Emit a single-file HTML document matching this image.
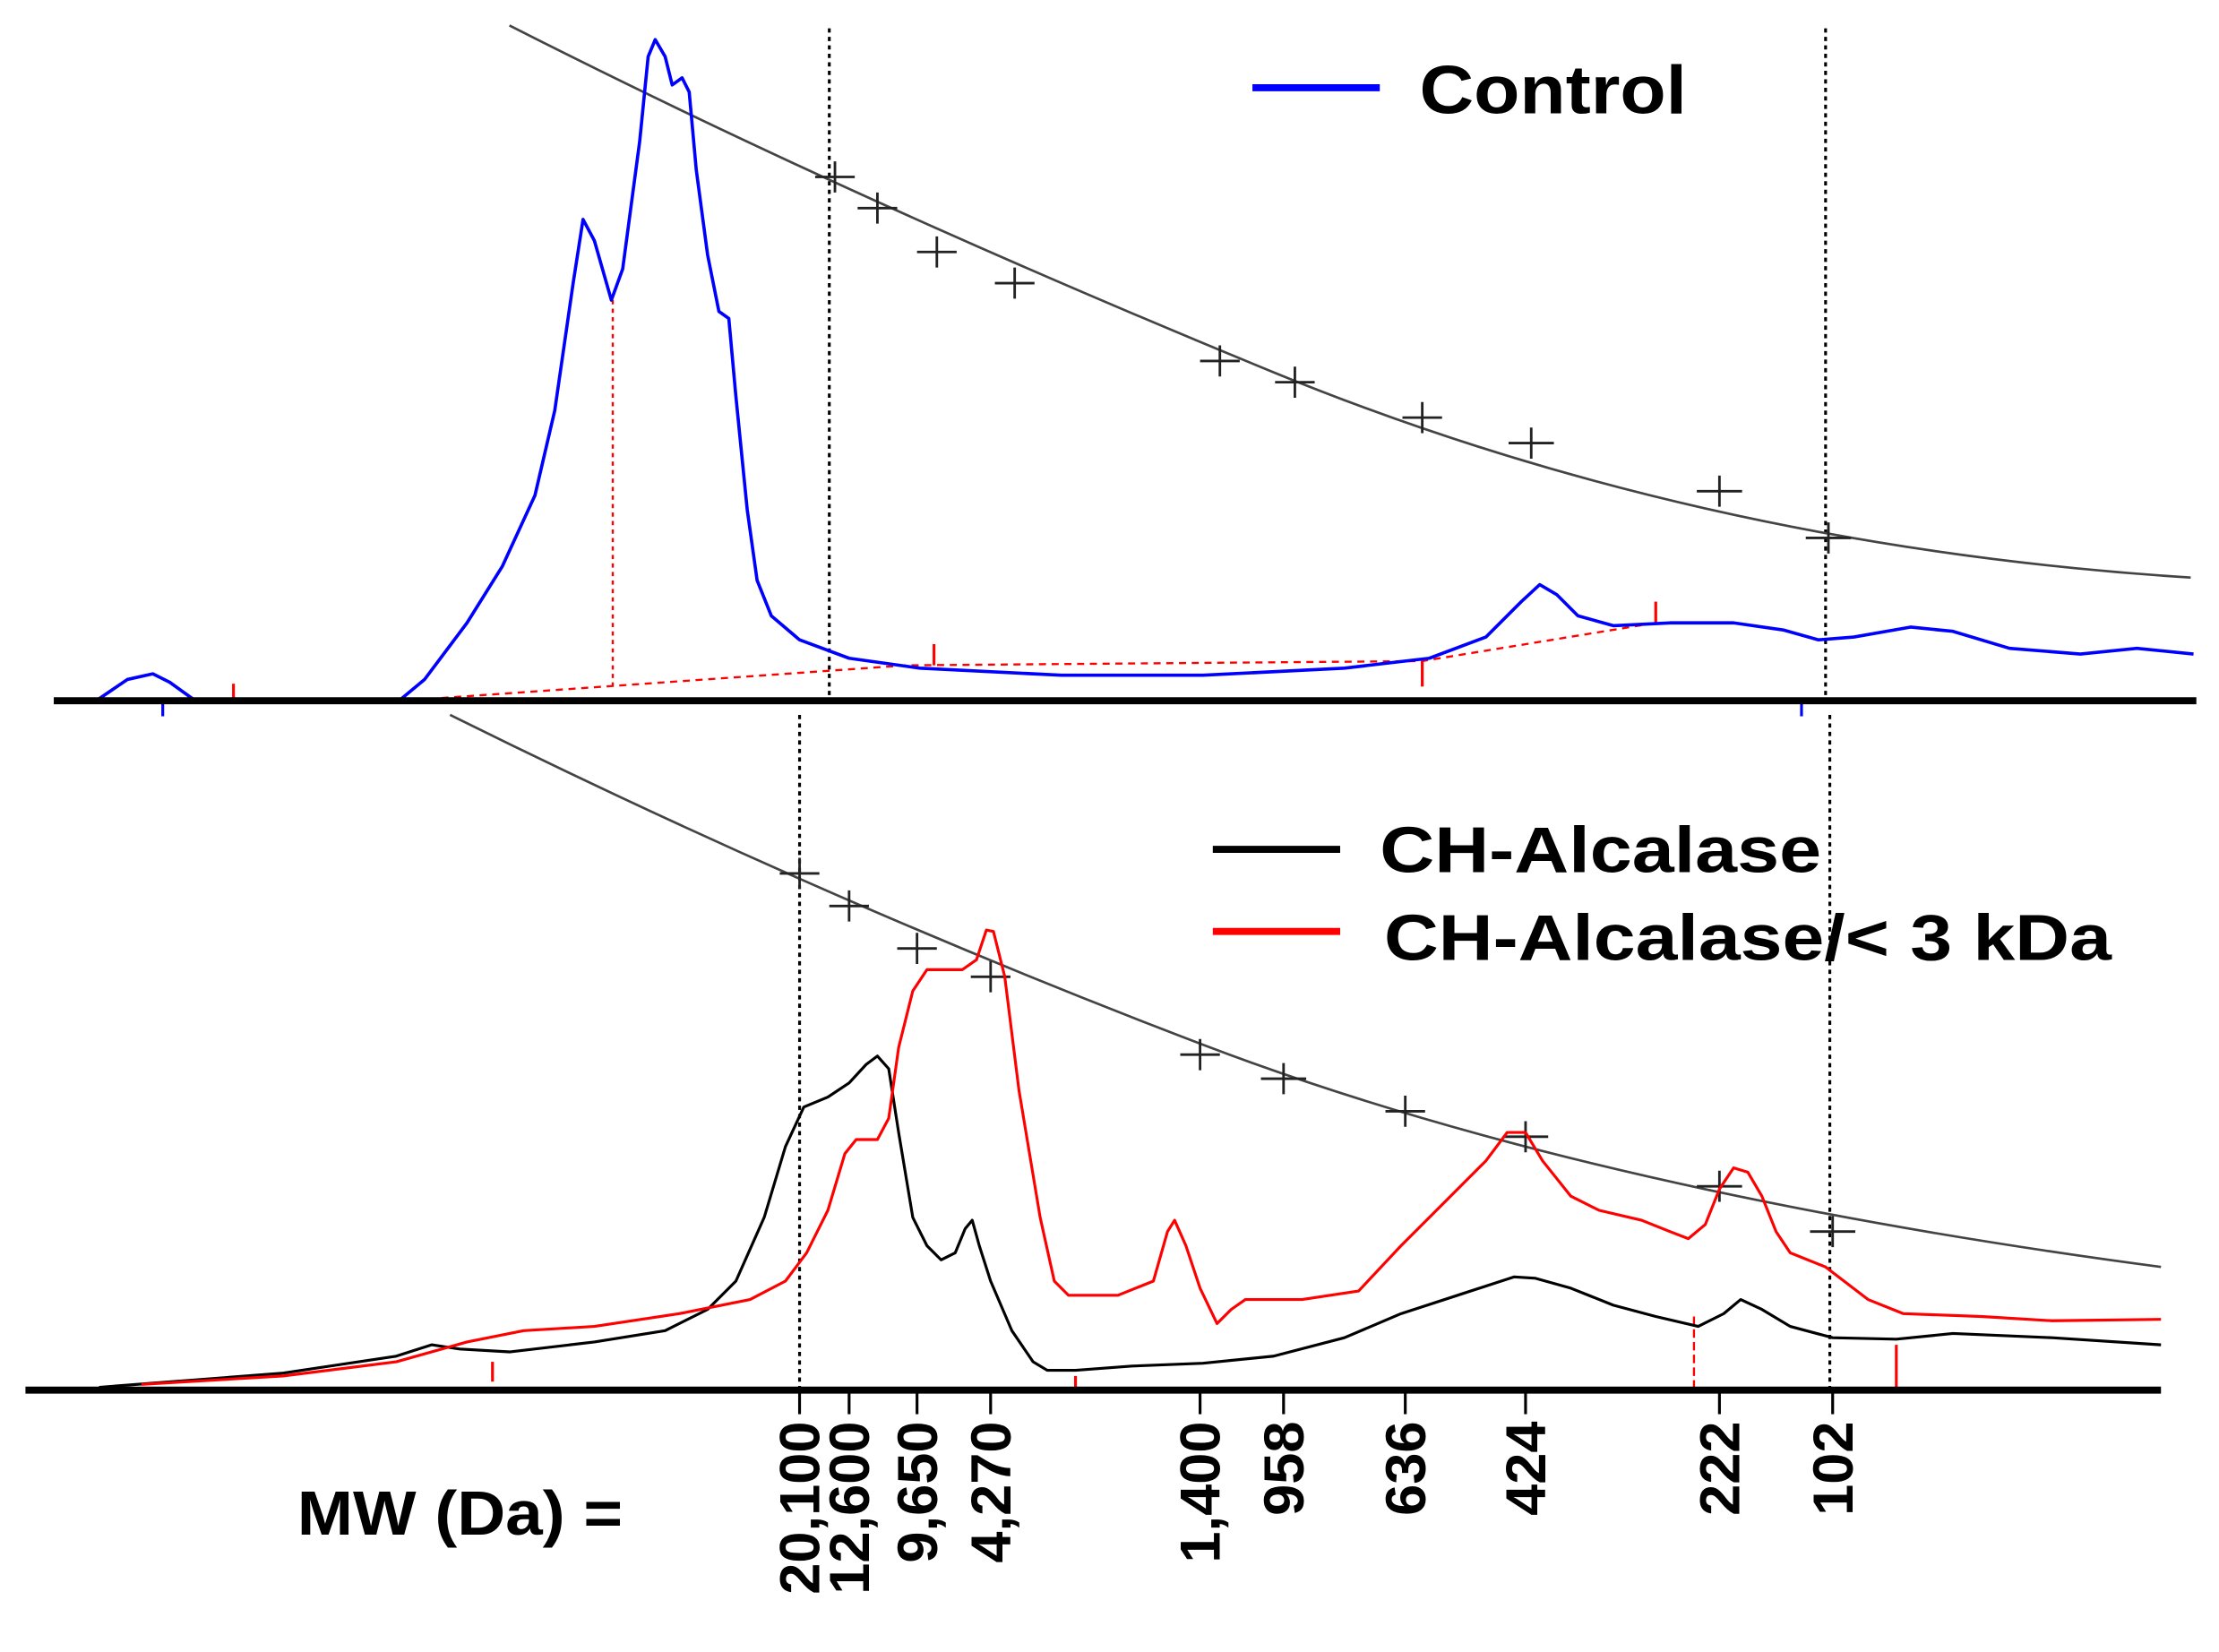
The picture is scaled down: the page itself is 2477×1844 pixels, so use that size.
<!DOCTYPE html>
<html><head><meta charset="utf-8"><style>html,body{margin:0;padding:0;background:#fff}svg{display:block}</style></head>
<body>
<svg width="2477" height="1844" viewBox="0 0 1568 1167" preserveAspectRatio="none" xmlns="http://www.w3.org/2000/svg" font-family="'Liberation Sans', sans-serif" font-weight="bold">
<rect width="1568" height="1167" fill="#fff"/>
<g stroke="#000" stroke-width="2" stroke-dasharray="3,3" fill="none">
<line x1="586" y1="20" x2="586" y2="495"/>
<line x1="1290" y1="20" x2="1290" y2="495"/>
<line x1="565" y1="505" x2="565" y2="982"/>
<line x1="1293" y1="505" x2="1293" y2="982"/>
</g>
<path d="M360,18 Q600,140 900,263 T1548,408" fill="none" stroke="#444" stroke-width="1.7"/>
<path d="M318,505 Q580,635 850,738 T1527,895" fill="none" stroke="#444" stroke-width="1.7"/>
<g stroke="#222" stroke-width="1.8" fill="none">
<path d="M576,125h28M590,114v22 M606,147h28M620,136v22 M648,178h28M662,167v22 M703,200h28M717,189v22 M848,255h28M862,244v22 M901,270h28M915,259v22 M991,295h28M1005,284v22 M1066,313h32M1082,302v22 M1199,347h32M1215,336v22 M1276,380h32M1292,369v22"/>
<path d="M551,617h28M565,606v22 M586,640h28M600,629v22 M634,670h28M648,659v22 M686,690h28M700,679v22 M834,745h28M848,734v22 M891,762h32M907,751v22 M979,785h28M993,774v22 M1062,803h32M1078,792v22 M1199,838h32M1215,827v22 M1279,870h32M1295,859v22"/>
</g>
<g stroke="#f00" stroke-width="1.5" fill="none">
<path d="M285,495 L640,470 L1005,467 L1170,440" stroke-dasharray="5,4"/>
<line x1="433" y1="212" x2="433" y2="485" stroke-dasharray="3,3"/>
<line x1="165" y1="483" x2="165" y2="495" stroke-width="2"/>
<line x1="660" y1="455" x2="660" y2="470" stroke-width="2"/>
<line x1="1005" y1="467" x2="1005" y2="485" stroke-width="2"/>
<line x1="1170" y1="425" x2="1170" y2="440" stroke-width="2"/>
<line x1="348" y1="962" x2="348" y2="976" stroke-width="2"/>
<line x1="760" y1="972" x2="760" y2="982" stroke-width="2"/>
<line x1="1197" y1="930" x2="1197" y2="982" stroke-dasharray="6,3"/>
<line x1="1340" y1="950" x2="1340" y2="982" stroke-width="2"/>
</g>
<g stroke="#00f" stroke-width="2"><line x1="115" y1="495" x2="115" y2="506"/><line x1="1273" y1="495" x2="1273" y2="506"/></g>
<polyline fill="none" stroke="#00f" stroke-width="2.3" stroke-linejoin="round" points="40,495 68,495 90,480 108,476 120,482 138,495 282,495 300,480 330,440 355,400 378,350 392,290 405,200 412,155 420,170 432,212 440,190 452,100 458,40 463,28 470,40 475,60 482,55 487,65 492,120 500,180 508,220 515,225 520,280 528,360 535,410 545,435 565,452 600,465 650,472 750,477 850,477 950,472 1010,465 1050,450 1075,425 1088,413 1100,420 1115,435 1140,442 1180,440 1225,440 1260,445 1285,452 1310,450 1350,443 1380,446 1420,458 1470,462 1510,458 1550,462"/>
<polyline fill="none" stroke="#000" stroke-width="2" stroke-linejoin="round" points="70,980 200,970 280,958 305,950 325,953 360,955 420,948 470,940 500,925 520,905 540,860 555,810 568,782 585,775 600,765 612,752 620,746 628,755 635,800 645,860 655,880 665,890 675,885 682,868 687,862 692,880 700,905 715,940 730,962 740,968 760,968 800,965 850,963 900,958 950,945 990,928 1030,915 1070,902 1085,903 1110,910 1140,922 1170,930 1200,937 1218,928 1230,918 1245,925 1265,937 1295,945 1340,946 1380,942 1450,945 1527,950"/>
<polyline fill="none" stroke="#f00" stroke-width="2" stroke-linejoin="round" points="100,978 200,972 280,962 330,948 370,940 420,937 480,928 530,918 555,905 570,885 585,855 597,815 605,805 620,805 628,790 635,740 645,700 655,685 680,685 690,678 697,657 702,658 710,690 720,770 735,860 745,905 755,915 790,915 815,905 825,870 830,862 838,880 848,910 860,935 870,925 880,918 920,918 960,912 990,880 1020,850 1050,820 1065,800 1078,800 1090,820 1110,845 1130,855 1160,862 1180,870 1193,875 1205,865 1215,840 1225,825 1235,828 1245,845 1255,870 1265,885 1290,895 1320,918 1345,928 1400,930 1450,933 1527,932"/>
<line x1="38" y1="495" x2="1552" y2="495" stroke="#000" stroke-width="5"/>
<line x1="18" y1="982" x2="1527" y2="982" stroke="#000" stroke-width="5"/>
<g stroke="#000" stroke-width="2">
<line x1="565" y1="984" x2="565" y2="999"/><line x1="600" y1="984" x2="600" y2="999"/><line x1="648" y1="984" x2="648" y2="999"/><line x1="700" y1="984" x2="700" y2="999"/><line x1="848" y1="984" x2="848" y2="999"/><line x1="907" y1="984" x2="907" y2="999"/><line x1="993" y1="984" x2="993" y2="999"/><line x1="1078" y1="984" x2="1078" y2="999"/><line x1="1215" y1="984" x2="1215" y2="999"/><line x1="1295" y1="984" x2="1295" y2="999"/>
</g>
<line x1="885" y1="62" x2="975" y2="62" stroke="#00f" stroke-width="5"/>
<text x="1003" y="80" font-size="48" textLength="189" lengthAdjust="spacingAndGlyphs">Control</text>
<line x1="857" y1="600" x2="947" y2="600" stroke="#000" stroke-width="5"/>
<text x="975" y="616" font-size="46" textLength="312" lengthAdjust="spacingAndGlyphs">CH-Alcalase</text>
<line x1="857" y1="658" x2="947" y2="658" stroke="#f00" stroke-width="5"/>
<text x="978" y="678" font-size="46" textLength="514" lengthAdjust="spacingAndGlyphs">CH-Alcalase/&lt; 3 kDa</text>
<text x="210" y="1084" font-size="44" textLength="230" lengthAdjust="spacingAndGlyphs">MW (Da) =</text>
<g font-size="40" text-anchor="end">
<text transform="translate(579,1004) rotate(-90)">20,100</text>
<text transform="translate(614,1004) rotate(-90)">12,600</text>
<text transform="translate(662,1004) rotate(-90)">9,650</text>
<text transform="translate(714,1004) rotate(-90)">4,270</text>
<text transform="translate(862,1004) rotate(-90)">1,400</text>
<text transform="translate(921,1004) rotate(-90)">958</text>
<text transform="translate(1007,1004) rotate(-90)">636</text>
<text transform="translate(1092,1004) rotate(-90)">424</text>
<text transform="translate(1229,1004) rotate(-90)">222</text>
<text transform="translate(1309,1004) rotate(-90)">102</text>
</g>
</svg>
</body></html>
